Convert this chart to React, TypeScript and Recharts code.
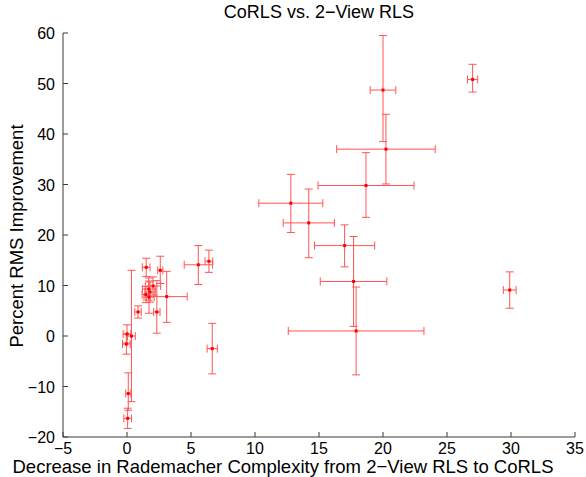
import React from "react";
import { ScatterChart, Scatter, XAxis, YAxis, ErrorBar } from "recharts";

// Decrease in Rademacher complexity (x)
const xs = [20.0, 20.23, 18.67, 27.0, 12.8, 14.2, 17.0, 17.7, 17.9, 29.9,
  5.57, 6.4, 6.66, 1.5, 2.6, 2.03, 1.7, 1.8, 1.48, 1.72, 3.1, 0.86, 2.33,
  0.0, 0.35, -0.05, 0.1, 0.05];
// Percent RMS improvement (y)
const ys = [48.7, 37.0, 29.8, 50.8, 26.3, 22.4, 17.9, 10.8, 1.0, 9.1,
  14.1, 14.8, -2.5, 13.6, 13.0, 9.9, 9.3, 8.7, 8.2, 7.7, 7.8, 4.76, 4.76,
  0.4, 0.0, -1.6, -11.4, -16.3];
// x error (symmetric)
const xErr = [1.0, 3.85, 3.75, 0.4, 2.5, 2.0, 2.35, 2.6, 5.3, 0.5,
  1.1, 0.3, 0.4, 0.3, 0.2, 0.6, 0.5, 0.4, 0.3, 0.4, 1.6, 0.25, 0.25,
  0.3, 0.3, 0.3, 0.2, 0.3];
// y error below / above
const yErrLow = [10.2, 6.9, 6.3, 2.5, 5.8, 6.9, 4.2, 8.9, 8.7, 3.6,
  3.9, 2.2, 5.0, 1.8, 2.6, 1.8, 2.2, 2.0, 1.6, 3.2, 5.1, 1.2, 4.2,
  1.8, 13.0, 2.0, 3.3, 2.0];
const yErrHigh = [10.8, 6.9, 6.5, 3.0, 5.7, 6.7, 4.1, 8.9, 8.7, 3.6,
  3.8, 2.2, 5.0, 1.8, 2.8, 1.8, 2.2, 2.0, 1.6, 3.2, 5.0, 1.2, 6.2,
  1.8, 13.0, 2.0, 4.1, 2.0];

const xTicks = [-5, 0, 5, 10, 15, 20, 25, 30, 35];
const yTicks = [-20, -10, 0, 10, 20, 30, 40, 50, 60];

const data = xs.map((x, i) => ({
  x,
  y: ys[i],
  ex: xErr[i],
  ey: [yErrLow[i], yErrHigh[i]],
}));

const AXIS = "#3a3a3a";
const FONT = "'Liberation Sans', Arial, Helvetica, sans-serif";
const fmt = (v: number) => String(v).replace("-", "\u2212");

const BottomTick = (p: any) => (
  <g>
    <line x1={p.x} y1={p.y} x2={p.x} y2={p.y - 5} stroke={AXIS} />
    <text x={p.x} y={p.y + 17} textAnchor="middle" fontSize={16} fill="#000" fontFamily={FONT}>
      {fmt(p.payload.value)}
    </text>
  </g>
);
const TopTick = (p: any) => (
  <line x1={p.x} y1={p.y} x2={p.x} y2={p.y + 5} stroke={AXIS} />
);
const LeftTick = (p: any) => (
  <g>
    <line x1={p.x} y1={p.y} x2={p.x + 5} y2={p.y} stroke={AXIS} />
    <text x={p.x - 8} y={p.y + 6} textAnchor="end" fontSize={16} fill="#000" fontFamily={FONT}>
      {fmt(p.payload.value)}
    </text>
  </g>
);
const RightTick = (p: any) => (
  <line x1={p.x} y1={p.y} x2={p.x - 5} y2={p.y} stroke={AXIS} />
);

const Dot = (p: any) => (
  <rect x={p.cx - 1.5} y={p.cy - 1.5} width={3} height={3} fill="#ff0000" />
);

export default function App() {
  return (
    <div style={{ position: "absolute", left: 0, top: 0, width: 586, height: 477, background: "#fff", fontFamily: FONT, overflow: "hidden" }}>
      <ScatterChart width={586} height={477} margin={{ top: 33, right: 11, bottom: 0, left: 0 }}>
        <XAxis
          type="number"
          dataKey="x"
          domain={[-5, 35]}
          ticks={xTicks}
          allowDataOverflow
          height={40}
          tickSize={0}
          tickMargin={0}
          tickLine={false}
          tick={<BottomTick />}
          stroke={AXIS}
          interval={0}
        />
        <XAxis
          xAxisId="top"
          orientation="top"
          type="number"
          domain={[-5, 35]}
          ticks={xTicks}
          allowDataOverflow
          height={0}
          tickSize={0}
          tickMargin={0}
          tickLine={false}
          tick={<TopTick />}
          stroke={AXIS}
          interval={0}
        />
        <YAxis
          type="number"
          dataKey="y"
          domain={[-20, 60]}
          ticks={yTicks}
          allowDataOverflow
          width={63}
          tickSize={0}
          tickMargin={0}
          tickLine={false}
          tick={<LeftTick />}
          stroke={AXIS}
          interval={0}
        />
        <YAxis
          yAxisId="right"
          orientation="right"
          type="number"
          domain={[-20, 60]}
          ticks={yTicks}
          allowDataOverflow
          width={0}
          tickSize={0}
          tickMargin={0}
          tickLine={false}
          tick={<RightTick />}
          stroke={AXIS}
          interval={0}
        />
        <Scatter data={data} shape={<Dot />} isAnimationActive={false}>
          <ErrorBar dataKey="ex" direction="x" width={4} stroke="#ff5555" strokeWidth={1} isAnimationActive={false} />
          <ErrorBar dataKey="ey" direction="y" width={4} stroke="#ff5555" strokeWidth={1} isAnimationActive={false} />
        </Scatter>
      </ScatterChart>
      <div style={{ position: "absolute", left: 119, width: 400, top: 2, textAlign: "center", fontSize: 18, lineHeight: "21px", color: "#000" }}>
        CoRLS vs. 2−View RLS
      </div>
      <div style={{ position: "absolute", left: -17, width: 600, top: 456, textAlign: "center", fontSize: 18.5, lineHeight: "21px", color: "#000", whiteSpace: "nowrap" }}>
        Decrease in Rademacher Complexity from 2−View RLS to CoRLS
      </div>
      <div style={{ position: "absolute", left: 17, top: 236, width: 0, height: 0 }}>
        <div style={{ position: "absolute", left: -150, top: -11, width: 300, textAlign: "center", fontSize: 18.5, color: "#000", transform: "rotate(-90deg)", whiteSpace: "nowrap", lineHeight: "22px" }}>
          Percent RMS Improvement
        </div>
      </div>
    </div>
  );
}
